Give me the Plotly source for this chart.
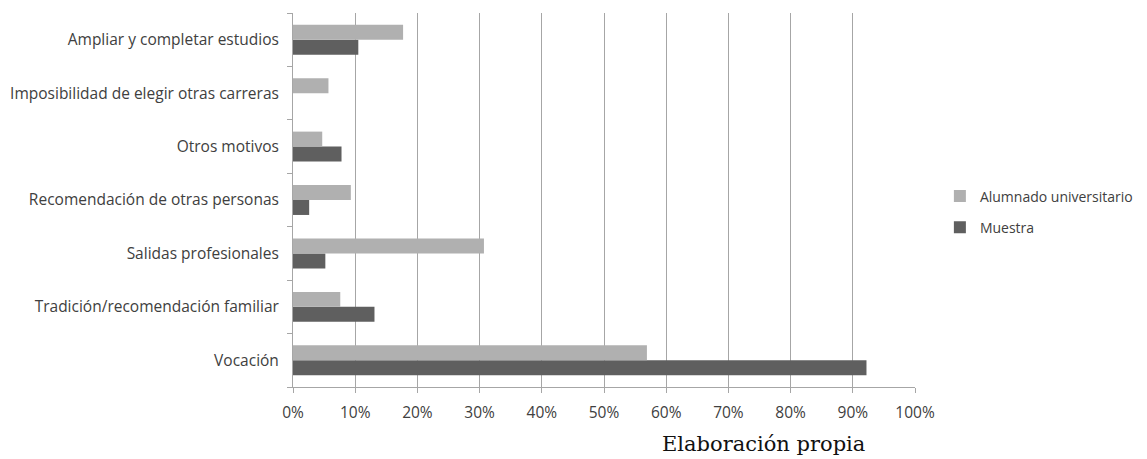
import plotly.graph_objects as go

categories = ["Vocación", "Tradición/recomendación familiar", "Salidas profesionales",
              "Recomendación de otras personas", "Otros motivos",
              "Imposibilidad de elegir otras carreras", "Ampliar y completar estudios"]
alumnado = [56.9, 7.6, 30.7, 9.3, 4.7, 5.7, 17.7]
muestra = [92.2, 13.1, 5.2, 2.6, 7.8, 0.0, 10.5]
x_ticks = [0, 10, 20, 30, 40, 50, 60, 70, 80, 90, 100]
x_tick_labels = [f"{v}%" for v in x_ticks]

font_family = "Open Sans"
text_color = "#404040"

fig = go.Figure()
fig.add_trace(go.Bar(y=categories, x=muestra, orientation="h", name="Muestra",
                     legendgroup="m", legendrank=2,
                     marker=dict(color="#5f5f5f", line=dict(width=0))))
fig.add_trace(go.Bar(y=categories, x=alumnado, orientation="h", name="Alumnado universitario",
                     legendgroup="a", legendrank=1,
                     marker=dict(color="#b0b0b0", line=dict(width=0))))

fig.update_layout(
    width=1139, height=451,
    margin=dict(l=285, r=232, t=5, b=72, autoexpand=False),
    paper_bgcolor="white", plot_bgcolor="white",
    barmode="group", bargap=0.44, bargroupgap=0,
    font=dict(family=font_family, size=15.5, color=text_color),
    legend=dict(traceorder="grouped", x=1.04, y=0.468, xanchor="left", yanchor="middle",
                font=dict(family=font_family, size=14, color=text_color),
                itemwidth=30, tracegroupgap=10),
    showlegend=True,
)
fig.update_xaxes(range=[0, 100], tickvals=x_ticks, ticktext=x_tick_labels,
                 showgrid=True, gridcolor="#a6a6a6", gridwidth=1,
                 showline=True, linecolor="#a6a6a6", linewidth=1,
                 ticks="outside", ticklen=5, tickcolor="#a6a6a6",
                 zeroline=False, ticklabelstandoff=6, fixedrange=True, automargin=False)
fig.update_yaxes(showgrid=False, showline=True, linecolor="#a6a6a6", linewidth=1,
                 ticks="outside", ticklen=5, tickcolor="#a6a6a6", tickson="boundaries",
                 ticklabelstandoff=10, fixedrange=True, automargin=False)

fig.add_annotation(text="Elaboración propia", xref="paper", yref="paper",
                   x=0.757, y=-0.152, xanchor="center", yanchor="middle", showarrow=False,
                   font=dict(family="DejaVu Serif", size=21, color="#111111"))

fig.write_html("out.html")
